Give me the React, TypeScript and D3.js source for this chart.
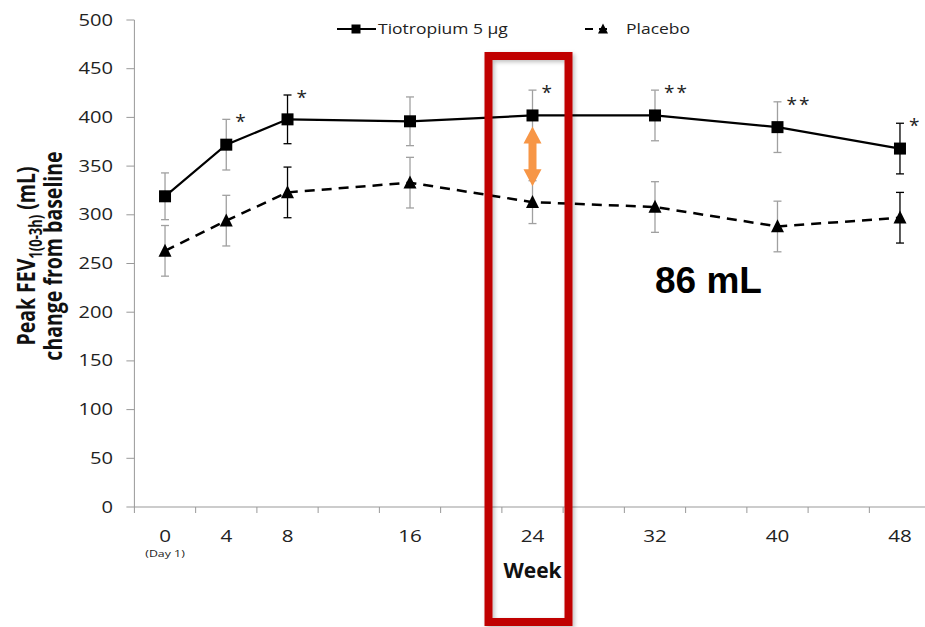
import React from "react";
import * as d3 from "d3";

const weeks = [0, 4, 8, 16, 24, 32, 40, 48];
const weekLabels = ["0", "4", "8", "16", "24", "32", "40", "48"];
const tiotropium = [319, 372, 398, 396, 402, 402, 390, 368];
const tiotropiumSE = [24, 26, 25, 25, 26, 26, 26, 26];
const placebo = [263, 294, 323, 333, 313, 308, 288, 297];
const placeboSE = [26, 26, 26, 26, 22, 26, 26, 26];
const significance = ["", "*", "*", "", "*", "**", "**", "*"];
const darkErrorWeeks = [8, 48];
const yTicks = [0, 50, 100, 150, 200, 250, 300, 350, 400, 450, 500];
const highlightWeek = 24;
const differenceLabel = "86 mL";

const W = 925;
const H = 627;
const font = "'Open Sans', 'Noto Sans', sans-serif";
const axisColor = "#999";
const stretch = 1.3; // the source picture is widened horizontally

function T(props: any) {
  const { x, y, sx = stretch, children, ...rest } = props;
  return (
    <text transform={`translate(${x},${y}) scale(${sx},1)`} fontFamily={font} fill="#222" {...rest}>
      {children}
    </text>
  );
}

function App() {
  const x = d3.scaleLinear().domain([-2, 50]).range([134.4, 930.6]);
  const y = d3.scaleLinear().domain([0, 500]).range([507, 20]);
  const boundaries = d3.range(-2, 51, 4);

  const line = d3
    .line<number>()
    .x((d, i) => x(weeks[i]))
    .y((d) => y(d));

  const hi = weeks.indexOf(highlightWeek);
  const cx = x(highlightWeek);
  const top = y(tiotropium[hi]) + 11;
  const bot = y(placebo[hi]) - 16;
  const arrow = [
    [cx, top], [cx + 9, top + 17], [cx + 4, top + 17], [cx + 4, bot - 17],
    [cx + 9, bot - 17], [cx, bot], [cx - 9, bot - 17], [cx - 4, bot - 17],
    [cx - 4, top + 17], [cx - 9, top + 17],
  ];

  const errColor = (w: number) => (darkErrorWeeks.includes(w) ? "#000" : "#a0a0a0");

  const errBars = (vals: number[], se: number[], key: string) =>
    vals.map((v, i) => {
      const px = x(weeks[i]);
      const c = errColor(weeks[i]);
      return (
        <g key={key + i} stroke={c} strokeWidth={1.3}>
          <line x1={px} x2={px} y1={y(v + se[i])} y2={y(v - se[i])} />
          <line x1={px - 4} x2={px + 4} y1={y(v + se[i])} y2={y(v + se[i])} />
          <line x1={px - 4} x2={px + 4} y1={y(v - se[i])} y2={y(v - se[i])} />
        </g>
      );
    });

  const tri = (px: number, py: number, s: number) =>
    `M${px},${py - s * 0.55} L${px + s / 2},${py + s * 0.45} L${px - s / 2},${py + s * 0.45} Z`;

  return (
    <svg width={W} height={H} style={{ position: "absolute", left: 0, top: 0, background: "#fff" }}>
      <defs>
        <filter id="shadow" x="-20%" y="-5%" width="140%" height="110%">
          <feDropShadow dx="2" dy="2" stdDeviation="2" floodColor="#000" floodOpacity="0.25" />
        </filter>
      </defs>

      {/* y axis */}
      <line x1={x(-2)} x2={x(-2)} y1={y(500)} y2={y(0)} stroke={axisColor} />
      {yTicks.map((t) => (
        <g key={t}>
          <line x1={x(-2) - 8} x2={x(-2)} y1={y(t)} y2={y(t)} stroke={axisColor} />
          <T x={113} y={y(t)} dy="0.36em" textAnchor="end" fontSize={15.5}>
            {t}
          </T>
        </g>
      ))}

      {/* x axis */}
      <line x1={x(-2)} x2={W} y1={y(0)} y2={y(0)} stroke={axisColor} />
      {boundaries.map((b) => (
        <line key={b} x1={x(b)} x2={x(b)} y1={y(0)} y2={y(0) + 6} stroke={axisColor} />
      ))}
      {weeks.map((w, i) => (
        <T key={w} x={x(w)} y={542} sx={1.25} textAnchor="middle" fontSize={16.5}>
          {weekLabels[i]}
        </T>
      ))}
      <T x={x(0)} y={557} textAnchor="middle" fontSize={9.5}>
        (Day 1)
      </T>
      <T x={x(highlightWeek)} y={578} sx={1} textAnchor="middle" fontSize={21} fontWeight="bold" fill="#111">
        Week
      </T>

      {/* y axis title */}
      <g transform={`translate(35,256) scale(${stretch},1) rotate(-90)`}>
        <text textAnchor="middle" fontFamily={font} fontSize={19.5} fontWeight="bold" fill="#111">
          <tspan>Peak FEV</tspan>
          <tspan fontSize={13} dy={5}>1(0-3h)</tspan>
          <tspan dy={-5}> (mL)</tspan>
        </text>
        <text y={21} textAnchor="middle" fontFamily={font} fontSize={19.5} fontWeight="bold" fill="#111">
          change from baseline
        </text>
      </g>

      {/* error bars */}
      {errBars(placebo, placeboSE, "p")}
      {errBars(tiotropium, tiotropiumSE, "t")}

      {/* lines */}
      <path d={line(placebo) || ""} fill="none" stroke="#000" strokeWidth={2.5} strokeDasharray="10 7" />
      <path d={line(tiotropium) || ""} fill="none" stroke="#000" strokeWidth={2.2} />

      {/* markers */}
      {tiotropium.map((v, i) => (
        <rect key={"ts" + i} x={x(weeks[i]) - 6} y={y(v) - 6} width={12} height={12} fill="#000" />
      ))}
      {placebo.map((v, i) => (
        <path key={"pt" + i} d={tri(x(weeks[i]), y(v), 13)} fill="#000" />
      ))}

      {/* significance */}
      {significance.map((s, i) =>
        s ? (
          <T key={"s" + i} x={x(weeks[i]) + 9} y={y(tiotropium[i] + tiotropiumSE[i]) + 9}
            sx={1} fontSize={19} letterSpacing={2}>
            {s}
          </T>
        ) : null
      )}

      {/* legend */}
      <line x1={337} x2={376} y1={29} y2={29} stroke="#000" strokeWidth={2} />
      <rect x={351.5} y={24.5} width={9} height={9} fill="#000" />
      <T x={378} y={29} sx={1.25} dy="0.36em" fontSize={14}>Tiotropium 5 µg</T>
      <line x1={585} x2={612} y1={29} y2={29} stroke="#000" strokeWidth={2} strokeDasharray="8 6" />
      <path d={tri(603, 29, 10)} fill="#000" />
      <T x={626} y={29} sx={1.25} dy="0.36em" fontSize={14}>Placebo</T>

      {/* highlight box */}
      <rect x={cx - 44} y={56} width={80} height={566} fill="none" stroke="#c00000" strokeWidth={8} filter="url(#shadow)" />

      {/* difference arrow */}
      <path d={"M" + arrow.map((p) => p.join(",")).join("L") + "Z"} fill="#f79646" />

      <text x={655} y={293} fontFamily="'Liberation Sans', Arial, sans-serif" fontSize={37} fontWeight="bold" fill="#000">
        {differenceLabel}
      </text>
    </svg>
  );
}

export default App;
